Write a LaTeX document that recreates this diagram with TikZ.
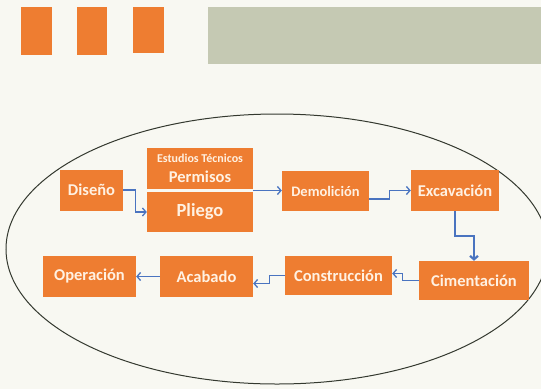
\documentclass[tikz,border=0pt]{standalone}
\usepackage{fontspec}
\setmainfont{Carlito}[BoldFont={Carlito Bold}]
\usepackage{tikz}
\usetikzlibrary{positioning,arrows.meta}
\usepackage{xcolor}
\definecolor{stageOrange}{HTML}{EE7D31}
\definecolor{stageText}{HTML}{FFF1E2}
\definecolor{flowBlue}{HTML}{4A74C0}
\definecolor{paperBg}{HTML}{F8F8F2}
\definecolor{bandGray}{HTML}{C5C9B3}
\definecolor{ringLine}{HTML}{34392F}

\begin{document}
\begin{tikzpicture}[x=1pt, y=-1pt,
    stageBox/.style={rectangle, fill=stageOrange, text=stageText, font=\bfseries\fontsize{16.5}{19}\selectfont, align=center, inner sep=0pt, minimum height=41pt},
    flowArrow/.style={-{Straight Barb[length=3.5pt, width=8pt]}, draw=flowBlue, line width=1.3pt}
]
    % background and header
    \useasboundingbox (0,0) rectangle (541,389);
    \fill[paperBg] (0,0) rectangle (541,389);
    \fill[stageOrange] (21,7) rectangle (52,55);
    \fill[stageOrange] (77,7) rectangle (107,55);
    \fill[stageOrange] (133,7) rectangle (164,53);
    \fill[bandGray] (208,7) rectangle (541,64);

    \draw[ringLine, line width=1pt] (277,249) ellipse [x radius=271pt, y radius=135pt];

    % upper row
    \node[stageBox, minimum width=63pt] (diseno) at (91.5,190) {Diseño};
    \node[stageBox, minimum width=106pt, minimum height=41pt] (permisos) at (200,168.5) {{\fontsize{12}{13}\selectfont Estudios Técnicos}\\[1pt] Permisos};
    \node[stageBox, minimum width=106pt, minimum height=40pt, font=\bfseries\fontsize{18.5}{20}\selectfont] (pliego) at (200,212) {Pliego};
    \node[stageBox, minimum width=87pt, minimum height=40pt, font=\bfseries\fontsize{14.5}{16}\selectfont] (demolicion) at (325.5,191) {Demolición};
    \node[stageBox, minimum width=88pt] (excavacion) at (455,190.5) {Excavación};

    % lower row
    \node[stageBox, minimum width=110pt, minimum height=39pt] (cimentacion) at (474,280.5) {Cimentación};
    \node[stageBox, minimum width=107pt, minimum height=39pt] (construccion) at (338.5,275.5) {Construcción};
    \node[stageBox, minimum width=93pt] (acabado) at (206.5,276.5) {Acabado};
    \node[stageBox, minimum width=93pt] (operacion) at (89.5,276.5) {Operación};

    \coordinate (gap) at (253,190.5);
    \draw[flowArrow] (diseno.east) -- ++(12,0) |- (pliego.west);
    \draw[flowArrow] (gap) -- (gap -| demolicion.west);
    \draw[flowArrow] ([yshift=-8pt]demolicion.east) -- ++(20,0) |- (excavacion.west);
    \draw[flowArrow, line width=2.2pt] (excavacion.south) -- ++(0,25) -| (cimentacion.north);
    \draw[flowArrow] (cimentacion.west) -- ++(-16,0) |- ([yshift=2pt]construccion.east);
    \draw[flowArrow] (construccion.west) -- ++(-15,0) |- ([yshift=-7pt]acabado.east);
    \draw[flowArrow] (acabado.west) -- (operacion.east);
\end{tikzpicture}
\end{document}
